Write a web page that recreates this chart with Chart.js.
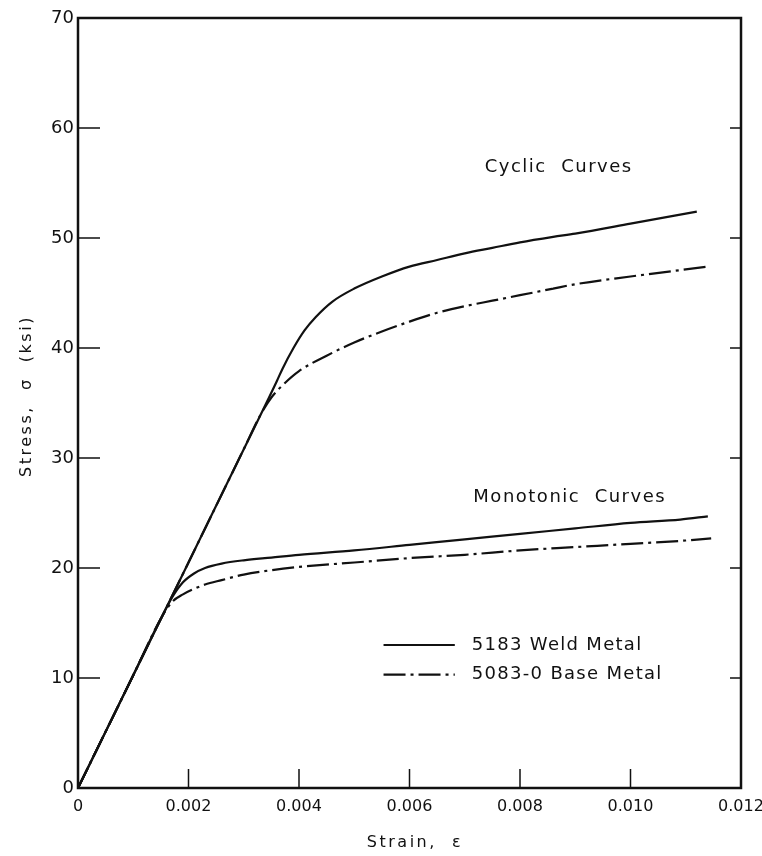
<!DOCTYPE html>
<html>
<head>
<meta charset="utf-8">
<script src="https://cdn.jsdelivr.net/npm/chart.js@4.4.1/dist/chart.umd.min.js"></script>
<style>
  html, body { margin: 0; padding: 0; background: #fff; }
  #wrap { width: 762px; height: 856px; }
</style>
</head>
<body>
<div id="wrap"><canvas id="stressChart" width="762" height="856"></canvas></div>
<script>
// axis ticks
const xTicks = [0, 0.002, 0.004, 0.006, 0.008, 0.010, 0.012];
const xTickLabels = ['0', '0.002', '0.004', '0.006', '0.008', '0.010', '0.012'];
const yTicks = [0, 10, 20, 30, 40, 50, 60, 70];

// 5183 weld metal, cyclic (solid)
const strainWeldCyclic = [0, 0.001, 0.002, 0.003, 0.0034, 0.0036, 0.0037, 0.0039, 0.0041, 0.0043, 0.0046, 0.005, 0.0055, 0.006, 0.0065, 0.007, 0.0075, 0.008, 0.0086, 0.009, 0.010, 0.0112];
const stressWeldCyclic = [0, 10.25, 20.5, 30.8, 34.9, 37.0, 38.1, 40.0, 41.6, 42.8, 44.2, 45.4, 46.5, 47.4, 48.0, 48.6, 49.1, 49.6, 50.1, 50.4, 51.3, 52.4];

// 5083-0 base metal, cyclic (dash-dot)
const strainBaseCyclic = [0, 0.001, 0.002, 0.003, 0.0033, 0.0035, 0.0037, 0.004, 0.0045, 0.005, 0.0055, 0.006, 0.0065, 0.007, 0.0075, 0.008, 0.0086, 0.009, 0.010, 0.0114];
const stressBaseCyclic = [0, 10.25, 20.5, 30.8, 33.9, 35.5, 36.6, 37.9, 39.3, 40.5, 41.5, 42.4, 43.2, 43.8, 44.3, 44.8, 45.4, 45.8, 46.5, 47.4];

// 5183 weld metal, monotonic (solid)
const strainWeldMono = [0, 0.001, 0.0015, 0.0017, 0.0019, 0.0021, 0.0023, 0.0026, 0.003, 0.0035, 0.004, 0.005, 0.006, 0.007, 0.008, 0.009, 0.010, 0.0109, 0.0114];
const stressWeldMono = [0, 10.25, 15.4, 17.3, 18.7, 19.5, 20.0, 20.4, 20.7, 20.95, 21.2, 21.6, 22.1, 22.6, 23.1, 23.6, 24.1, 24.4, 24.7];

// 5083-0 base metal, monotonic (dash-dot)
const strainBaseMono = [0, 0.001, 0.0015, 0.0017, 0.0019, 0.0021, 0.0023, 0.0026, 0.003, 0.0035, 0.004, 0.005, 0.006, 0.007, 0.008, 0.009, 0.010, 0.011, 0.01146];
const stressBaseMono = [0, 10.25, 15.4, 16.9, 17.6, 18.1, 18.5, 18.9, 19.4, 19.8, 20.1, 20.5, 20.9, 21.2, 21.6, 21.9, 22.2, 22.5, 22.7];

const legendLabels = ['5183 Weld Metal', '5083-0 Base Metal'];

const INK = '#111';
const FONT = '"DejaVu Sans", sans-serif';
const DASH_DOT = [22, 5, 3, 5];

function toPoints(xs, ys) {
    return xs.map((x, i) => ({ x: x, y: ys[i] }));
}

function curve(xs, ys, dashed) {
    return {
        data: toPoints(xs, ys),
        showLine: true,
        borderColor: INK,
        borderWidth: 2.2,
        borderDash: dashed ? DASH_DOT : [],
        pointRadius: 0,
        cubicInterpolationMode: 'monotone',
        fill: false
    };
}

// box, inward ticks, titles, notes and legend
const decorPlugin = {
    id: 'decor',
    afterDraw(chart) {
        const ctx = chart.ctx;
        const a = chart.chartArea;
        const xs = chart.scales.x;
        const ys = chart.scales.y;
        ctx.save();
        ctx.strokeStyle = INK;
        ctx.fillStyle = INK;

        // frame
        ctx.lineWidth = 2.5;
        ctx.strokeRect(a.left, a.top, a.right - a.left, a.bottom - a.top);

        // inward ticks
        ctx.lineWidth = 1.5;
        ctx.beginPath();
        xTicks.slice(1, -1).forEach(v => {
            const px = xs.getPixelForValue(v);
            ctx.moveTo(px, a.bottom);
            ctx.lineTo(px, a.bottom - 19);
        });
        yTicks.slice(1, -1).forEach(v => {
            const py = ys.getPixelForValue(v);
            ctx.moveTo(a.left, py);
            ctx.lineTo(a.left + 22, py);
            ctx.moveTo(a.right, py);
            ctx.lineTo(a.right - 11, py);
        });
        ctx.stroke();

        // axis titles
        ctx.letterSpacing = '2.5px';
        ctx.font = '16px ' + FONT;
        ctx.textAlign = 'center';
        ctx.textBaseline = 'middle';
        ctx.fillText('Strain,  \u03b5', 415, 843);
        ctx.save();
        ctx.translate(27, 396);
        ctx.rotate(-Math.PI / 2);
        ctx.fillText('Stress,  \u03c3  (ksi)', 0, 0);
        ctx.restore();

        // curve notes
        ctx.letterSpacing = '1.5px';
        ctx.font = '18px ' + FONT;
        ctx.fillText('Cyclic  Curves', xs.getPixelForValue(0.0087), ys.getPixelForValue(56.4));
        ctx.fillText('Monotonic  Curves', xs.getPixelForValue(0.0089), ys.getPixelForValue(26.4));

        // legend
        ctx.letterSpacing = '1.3px';
        ctx.textAlign = 'left';
        const lx0 = xs.getPixelForValue(0.00553);
        const lx1 = xs.getPixelForValue(0.00682);
        [13.0, 10.3].forEach((yv, i) => {
            const py = ys.getPixelForValue(yv);
            ctx.lineWidth = 2.2;
            ctx.setLineDash(i === 0 ? [] : [22, 5, 3, 5]);
            ctx.beginPath();
            ctx.moveTo(lx0, py);
            ctx.lineTo(lx1, py);
            ctx.stroke();
            ctx.setLineDash([]);
            ctx.fillText(legendLabels[i], lx1 + 17, py);
        });
        ctx.restore();
    }
};

window.onload = function() {
    const canvas = document.getElementById('stressChart');
    new Chart(canvas, {
        type: 'scatter',
        data: {
            datasets: [
                curve(strainBaseCyclic, stressBaseCyclic, true),
                curve(strainBaseMono, stressBaseMono, true),
                curve(strainWeldCyclic, stressWeldCyclic, false),
                curve(strainWeldMono, stressWeldMono, false)
            ]
        },
        options: {
            responsive: false,
            animation: false,
            layout: { padding: { top: 18, right: 21, left: 0, bottom: 0 } },
            plugins: {
                legend: { display: false },
                tooltip: { enabled: false }
            },
            scales: {
                x: {
                    type: 'linear',
                    min: 0,
                    max: 0.012,
                    afterFit: s => { s.height = 68; s.paddingLeft = 0; s.paddingRight = 0; },
                    afterBuildTicks: s => { s.ticks = xTicks.map(v => ({ value: v })); },
                    grid: { display: false, drawTicks: false },
                    border: { display: false },
                    ticks: {
                        padding: 9,
                        color: INK,
                        font: { family: FONT, size: 16 },
                        maxRotation: 0,
                        autoSkip: false,
                        callback: (v, i) => xTickLabels[i]
                    }
                },
                y: {
                    type: 'linear',
                    min: 0,
                    max: 70,
                    afterFit: s => { s.width = 78; s.paddingTop = 0; s.paddingBottom = 0; },
                    afterBuildTicks: s => { s.ticks = yTicks.map(v => ({ value: v })); },
                    grid: { display: false, drawTicks: false },
                    border: { display: false },
                    ticks: {
                        padding: 4,
                        color: INK,
                        font: { family: FONT, size: 18 },
                        autoSkip: false
                    }
                }
            }
        },
        plugins: [decorPlugin]
    });
};
</script>
</body>
</html>
